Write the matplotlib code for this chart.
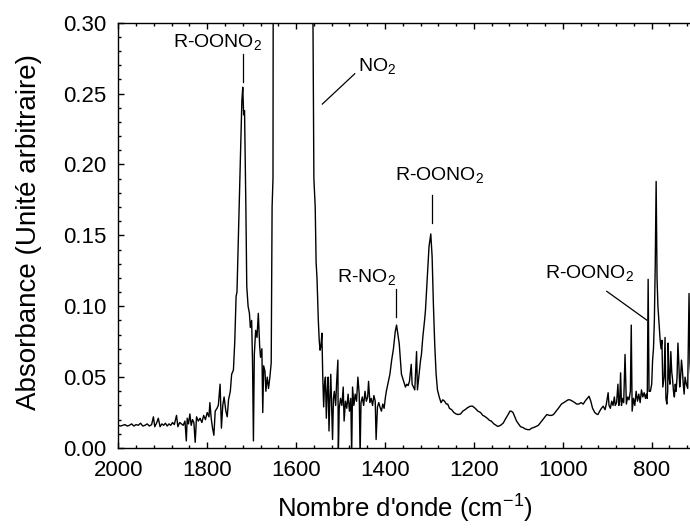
import matplotlib
matplotlib.use("Agg")
import matplotlib.pyplot as plt
from matplotlib.ticker import MultipleLocator

plt.rcParams['font.family'] = ['Liberation Sans', 'DejaVu Sans']
plt.rcParams['mathtext.fontset'] = 'custom'
plt.rcParams['mathtext.rm'] = 'Liberation Sans'
plt.rcParams['mathtext.it'] = 'Liberation Sans:italic'
plt.rcParams['mathtext.bf'] = 'Liberation Sans:bold'
plt.rcParams['mathtext.default'] = 'regular'

# ---- spectrum (wavenumber cm-1, absorbance) ----
wavenumber = [
    2000, 1995, 1990, 1985, 1980, 1975, 1970, 1965, 1960, 1955, 1950, 1945, 1940, 1935, 1930, 1925,
    1921, 1918, 1914, 1910, 1906, 1902, 1898, 1894, 1890, 1886, 1882, 1878, 1874, 1869, 1866, 1862,
    1858, 1854, 1850, 1847, 1845, 1842, 1839, 1836, 1833, 1830, 1827, 1824, 1820, 1816, 1812, 1808,
    1804, 1800, 1796, 1794, 1791, 1788, 1785, 1782, 1778, 1775, 1771, 1768, 1765, 1762, 1758, 1755,
    1752, 1748, 1745, 1741, 1738, 1735, 1733, 1729, 1725, 1722, 1720, 1718, 1716, 1713, 1711, 1708,
    1705, 1703, 1700, 1698, 1696, 1694, 1691, 1688, 1685, 1682, 1680, 1677, 1675, 1673, 1670, 1668,
    1665, 1662, 1659, 1656, 1654, 1652, 1651, 1600, 1565, 1562, 1560, 1557, 1555, 1553, 1550, 1548,
    1546, 1544, 1542, 1540, 1538, 1536, 1534, 1532, 1530, 1528, 1526, 1524, 1522, 1520, 1518, 1516,
    1514, 1511, 1509, 1506, 1505, 1503, 1500, 1497, 1494, 1492, 1489, 1486, 1483, 1480, 1477, 1475,
    1473, 1470, 1467, 1464, 1461, 1458, 1456, 1454, 1451, 1448, 1445, 1442, 1439, 1437, 1434, 1431,
    1428, 1425, 1422, 1420, 1417, 1414, 1411, 1408, 1405, 1402, 1399, 1397, 1393, 1389, 1385, 1381,
    1377, 1374, 1371, 1368, 1365, 1363, 1360, 1357, 1354, 1351, 1348, 1345, 1341, 1339, 1336, 1333,
    1329, 1327, 1324, 1320, 1318, 1315, 1311, 1309, 1305, 1301, 1297, 1294, 1291, 1288, 1285, 1282,
    1278, 1274, 1270, 1266, 1262, 1259, 1255, 1250, 1245, 1240, 1236, 1230, 1225, 1220, 1214, 1208,
    1203, 1197, 1191, 1185, 1180, 1176, 1170, 1165, 1161, 1155, 1150, 1146, 1140, 1134, 1128, 1123,
    1119, 1116, 1112, 1108, 1104, 1101, 1095, 1090, 1085, 1080, 1075, 1070, 1065, 1060, 1055, 1051,
    1045, 1040, 1036, 1030, 1025, 1021, 1015, 1010, 1003, 998, 993, 988, 984, 978, 973, 969,
    964, 959, 954, 950, 945, 941, 937, 933, 928, 924, 921, 917, 913, 909, 905, 902,
    898, 896, 893, 890, 887, 884, 882, 879, 876, 874, 872, 870, 868, 866, 863, 860,
    857, 854, 851, 848, 846, 844, 841, 838, 835, 832, 829, 826, 823, 820, 817, 814,
    812, 810, 808, 806, 803, 800, 798, 796, 794, 792, 790, 788, 786, 783, 781, 779,
    777, 775, 772, 770, 768, 766, 764, 763, 761, 759, 757, 755, 753, 751, 749, 747,
    745, 743, 741, 739, 737, 735, 733, 731, 729, 727, 725, 722, 719, 716, 714, 712,
]
absorbance = [
    0.016, 0.0155, 0.016, 0.0165, 0.0155, 0.016, 0.017, 0.0155, 0.0165, 0.016, 0.0175, 0.0155, 0.016, 0.017, 0.0155, 0.0165,
    0.022, 0.015, 0.0175, 0.021, 0.015, 0.017, 0.016, 0.0175, 0.0155, 0.017, 0.016, 0.018, 0.0165, 0.023, 0.015, 0.018,
    0.017, 0.016, 0.019, 0.005, 0.021, 0.017, 0.024, 0.016, 0.020, 0.018, 0.004, 0.022, 0.019, 0.021, 0.018, 0.023,
    0.020, 0.025, 0.022, 0.032, 0.021, 0.014, 0.009, 0.026, 0.028, 0.030, 0.045, 0.014, 0.030, 0.036, 0.026, 0.022,
    0.034, 0.040, 0.052, 0.055, 0.075, 0.107, 0.110, 0.160, 0.210, 0.245, 0.2545, 0.235, 0.238, 0.170, 0.114, 0.100,
    0.095, 0.085, 0.090, 0.060, 0.005, 0.066, 0.083, 0.078, 0.095, 0.072, 0.064, 0.070, 0.025, 0.058, 0.054, 0.040,
    0.050, 0.042, 0.050, 0.060, 0.170, 0.190, 0.450, 0.600, 0.450, 0.300, 0.190, 0.170, 0.131, 0.120, 0.090, 0.076,
    0.069, 0.072, 0.081, 0.050, 0.029, 0.045, 0.050, 0.021, 0.040, 0.050, 0.012, 0.035, 0.052, 0.030, 0.006, 0.035,
    0.040, 0.030, 0.045, 0.062, -0.005, 0.028, 0.035, 0.030, 0.043, 0.019, 0.033, 0.028, 0.038, 0.026, 0.035, -0.005,
    0.043, 0.030, 0.038, 0.033, 0.050, 0.038, -0.005, 0.032, 0.036, 0.030, 0.040, 0.033, 0.036, 0.047, 0.032, 0.035,
    0.030, 0.037, 0.033, 0.006, 0.029, 0.032, 0.0285, 0.026, 0.031, 0.028, 0.036, 0.040, 0.046, 0.052, 0.062, 0.070,
    0.082, 0.0867, 0.080, 0.0736, 0.060, 0.052, 0.049, 0.046, 0.043, 0.045, 0.044, 0.047, 0.059, 0.045, 0.043, 0.041,
    0.068, 0.041, 0.050, 0.062, 0.066, 0.078, 0.090, 0.097, 0.120, 0.142, 0.151, 0.135, 0.100, 0.072, 0.052, 0.041,
    0.036, 0.032, 0.034, 0.033, 0.031, 0.031, 0.028, 0.027, 0.025, 0.024, 0.0236, 0.024, 0.026, 0.027, 0.0285, 0.0295,
    0.0295, 0.028, 0.026, 0.025, 0.023, 0.0224, 0.021, 0.0195, 0.019, 0.017, 0.016, 0.0152, 0.016, 0.0176, 0.021, 0.0236,
    0.026, 0.026, 0.025, 0.022, 0.019, 0.0176, 0.015, 0.0145, 0.0135, 0.013, 0.0129, 0.014, 0.0145, 0.0152, 0.016, 0.0176,
    0.020, 0.022, 0.0236, 0.023, 0.023, 0.0236, 0.026, 0.028, 0.031, 0.032, 0.033, 0.034, 0.034, 0.033, 0.032, 0.031,
    0.031, 0.032, 0.031, 0.033, 0.035, 0.0365, 0.033, 0.028, 0.025, 0.024, 0.0236, 0.026, 0.028, 0.0295, 0.027, 0.031,
    0.039, 0.030, 0.028, 0.033, 0.030, 0.036, 0.030, 0.032, 0.045, 0.030, 0.033, 0.053, 0.030, 0.035, 0.032, 0.066,
    0.031, 0.036, 0.034, 0.040, 0.0867, 0.026, 0.035, 0.030, 0.040, 0.033, 0.038, 0.032, 0.041, 0.036, 0.039, 0.035,
    0.038, 0.035, 0.119, 0.040, 0.040, 0.045, 0.062, 0.070, 0.090, 0.130, 0.188, 0.120, 0.100, 0.085, 0.076, 0.070,
    0.076, 0.043, 0.050, 0.078, 0.035, 0.031, 0.040, 0.074, 0.050, 0.045, 0.068, 0.054, 0.048, 0.040, 0.036, 0.045,
    0.040, 0.050, 0.074, 0.060, 0.043, 0.050, 0.062, 0.055, 0.045, 0.038, 0.050, 0.045, 0.042, 0.109, 0.060, 0.050,
]

x_ticks = [2000, 1800, 1600, 1400, 1200, 1000, 800]
y_ticks = [0.00, 0.05, 0.10, 0.15, 0.20, 0.25, 0.30]

W, H = 690, 529
fig = plt.figure(figsize=(W / 100, H / 100), dpi=100)
left_px, top_px, bot_px = 118.3, 22.7, 448.0
xmin, xmax = 2000, 700
px_per_unit = 0.4445
width_px = (xmin - xmax) * px_per_unit
ax = fig.add_axes([left_px / W, 1 - bot_px / H, width_px / W, (bot_px - top_px) / H])

ax.plot(wavenumber, absorbance, color='black', lw=1.0)
ax.set_xlim(xmin, xmax)
ax.set_ylim(0.0, 0.30)

ax.set_xticks(x_ticks)
ax.set_yticks(y_ticks)
ax.set_xticklabels([str(v) for v in x_ticks])
ax.set_yticklabels([f"{v:.2f}" for v in y_ticks])
ax.xaxis.set_minor_locator(MultipleLocator(40))
ax.yaxis.set_minor_locator(MultipleLocator(0.01))
ax.tick_params(which='both', direction='in', top=True, right=False, width=1.0)
ax.tick_params(which='major', length=4.5)
ax.tick_params(which='minor', length=2.5)
ax.tick_params(axis='x', which='major', labelsize=16, pad=9)
ax.tick_params(axis='y', which='major', labelsize=16, pad=8.5)
ax.spines['right'].set_visible(False)
for s in ('left', 'bottom', 'top'):
    ax.spines[s].set_linewidth(1.0)

fig.text(29 / W, 1 - 232 / H, "Absorbance (Unité arbitraire)", rotation=90,
         ha='center', va='center', fontsize=20)
fig.text(405 / W, 1 - 509 / H, "Nombre d'onde (cm$^{-1}$)",
         ha='center', va='center', fontsize=18.5)

fs = 14
# annotations
ax.text(1776, 0.283, "R-OONO$_2$", ha='center', va='baseline', fontsize=fs)
ax.plot([1719, 1719], [0.278, 0.258], color='black', lw=0.9)

ax.text(1461, 0.266, "NO$_2$", ha='left', va='baseline', fontsize=fs)
ax.plot([1468, 1541], [0.264, 0.2426], color='black', lw=0.9)

ax.text(1277, 0.189, "R-OONO$_2$", ha='center', va='baseline', fontsize=fs)
ax.plot([1295, 1295], [0.1788, 0.1588], color='black', lw=0.9)

ax.text(1442, 0.117, "R-NO$_2$", ha='center', va='baseline', fontsize=fs)
ax.plot([1375, 1375], [0.112, 0.0926], color='black', lw=0.9)

ax.text(940, 0.120, "R-OONO$_2$", ha='center', va='baseline', fontsize=fs)
ax.plot([901, 811], [0.1105, 0.0902], color='black', lw=0.9)

fig.savefig("out.png", dpi=100)
